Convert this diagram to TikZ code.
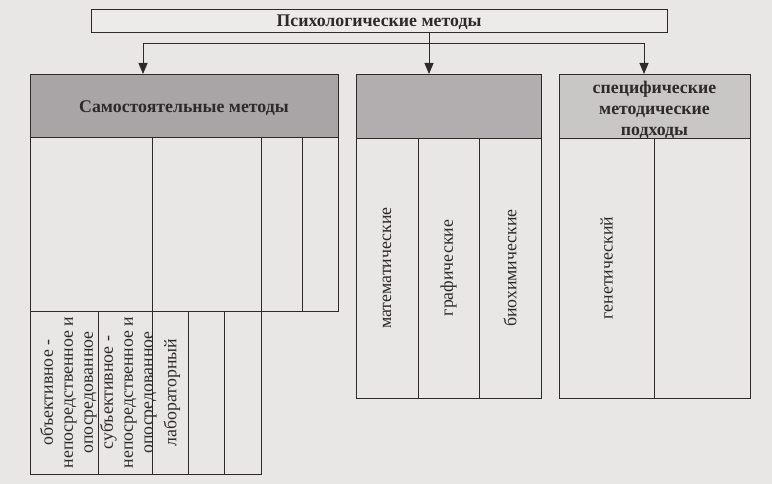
\documentclass[tikz,border=0pt]{standalone}
\usepackage{fontspec}
\setmainfont{Liberation Serif}
\usetikzlibrary{arrows.meta,calc}
\definecolor{paper}{HTML}{E8E7E5}
\definecolor{ink}{HTML}{2E2A2B}
\definecolor{hdrdark}{HTML}{A9A5A6}
\definecolor{hdrmid}{HTML}{B2AEAF}
\definecolor{hdrlight}{HTML}{C9C6C6}
\definecolor{boxfill}{HTML}{ECEBE9}
\tikzset{
  cell/.style={draw=ink, line width=0.9pt, inner sep=0pt, outer sep=0pt, anchor=north west},
  hdr/.style={cell, align=center},
  htext/.style={font=\bfseries\fontsize{17.8}{21}\selectfont, align=center, text=ink, inner sep=0pt},
  vtext/.style={rotate=90, font=\fontsize{17.8}{20}\selectfont, align=center, text=ink, inner sep=0pt},
  link/.style={draw=ink, line width=0.9pt},
  arr/.style={link, -{Triangle[width=9pt,length=11pt]}}
}
\begin{document}
\begin{tikzpicture}[x=1pt,y=-1pt]
\fill[paper] (0,0) rectangle (772,484);
\useasboundingbox (0,0) rectangle (772,484);
% top box
\node[hdr, fill=boxfill, minimum width=576pt, minimum height=23pt] (T) at (91,9) {};
\node[htext] (tT) at ([yshift=-2pt]T.center) {Психологические методы};
% headers
\node[hdr, fill=hdrdark, minimum width=308pt, minimum height=63pt] (Lh) at (30,74) {};
\node[hdr, fill=hdrmid, minimum width=185pt, minimum height=64pt] (Mh) at (356,74) {};
\node[hdr, fill=hdrlight, minimum width=191pt, minimum height=64pt] (Rh) at (559,74) {};
\node[htext] (tLh) at ([yshift=-3pt]Lh.center) {Самостоятельные методы};
\node[htext] (tRh) at ([yshift=-4pt]Rh.center) {специфические\\методические\\подходы};
% connectors
\coordinate (hl) at (143,43);
\coordinate (hm) at (429,43);
\coordinate (hr) at (644,43);
\draw[link] (hl) -- (hr);
\draw[arr] (hl) -- (hl |- Lh.north);
\draw[arr] (T.south -| hm) -- (hm |- Mh.north);
\draw[arr] (hr) -- (hr |- Rh.north);
% left upper cells
\node[cell, minimum width=122pt, minimum height=174pt] (L1) at (30,137) {};
\node[cell, minimum width=109pt, minimum height=174pt] (L2) at (152,137) {};
\node[cell, minimum width=41pt, minimum height=174pt] (L3) at (261,137) {};
\node[cell, minimum width=36pt, minimum height=174pt] (L4) at (302,137) {};
% left lower cells
\node[cell, minimum width=68pt, minimum height=163pt] (B1) at (30,311) {};
\node[cell, minimum width=54pt, minimum height=163pt] (B2) at (98,311) {};
\node[cell, minimum width=36pt, minimum height=163pt] (B3) at (152,311) {};
\node[cell, minimum width=36pt, minimum height=163pt] (B4) at (188,311) {};
\node[cell, minimum width=37pt, minimum height=163pt] (B5) at (224,311) {};
% middle cells
\node[cell, minimum width=62pt, minimum height=260pt] (M1) at (356,138) {};
\node[cell, minimum width=61pt, minimum height=260pt] (M2) at (418,138) {};
\node[cell, minimum width=62pt, minimum height=260pt] (M3) at (479,138) {};
% right cells
\node[cell, minimum width=95pt, minimum height=260pt] (R1) at (559,138) {};
\node[cell, minimum width=96pt, minimum height=260pt] (R2) at (654,138) {};
% texts
\node[vtext] (tobj) at ($(B1.center)!0.5!(B2.center)+(4,0)$) {объективное -\\непосредственное и\\опосредованное\\субъективное -\\непосредственное и\\опосредованное};
\node[vtext] (tlab) at ([shift={(2,0)}]B3.center) {лабораторный};
\node[vtext] (tmat) at (M1.center) {математические};
\node[vtext] (tgra) at (M2.center) {графические};
\node[vtext] (tbio) at (M3.center) {биохимические};
\node[vtext] (tgen) at (R1.center) {генетический};
\end{tikzpicture}
\end{document}
